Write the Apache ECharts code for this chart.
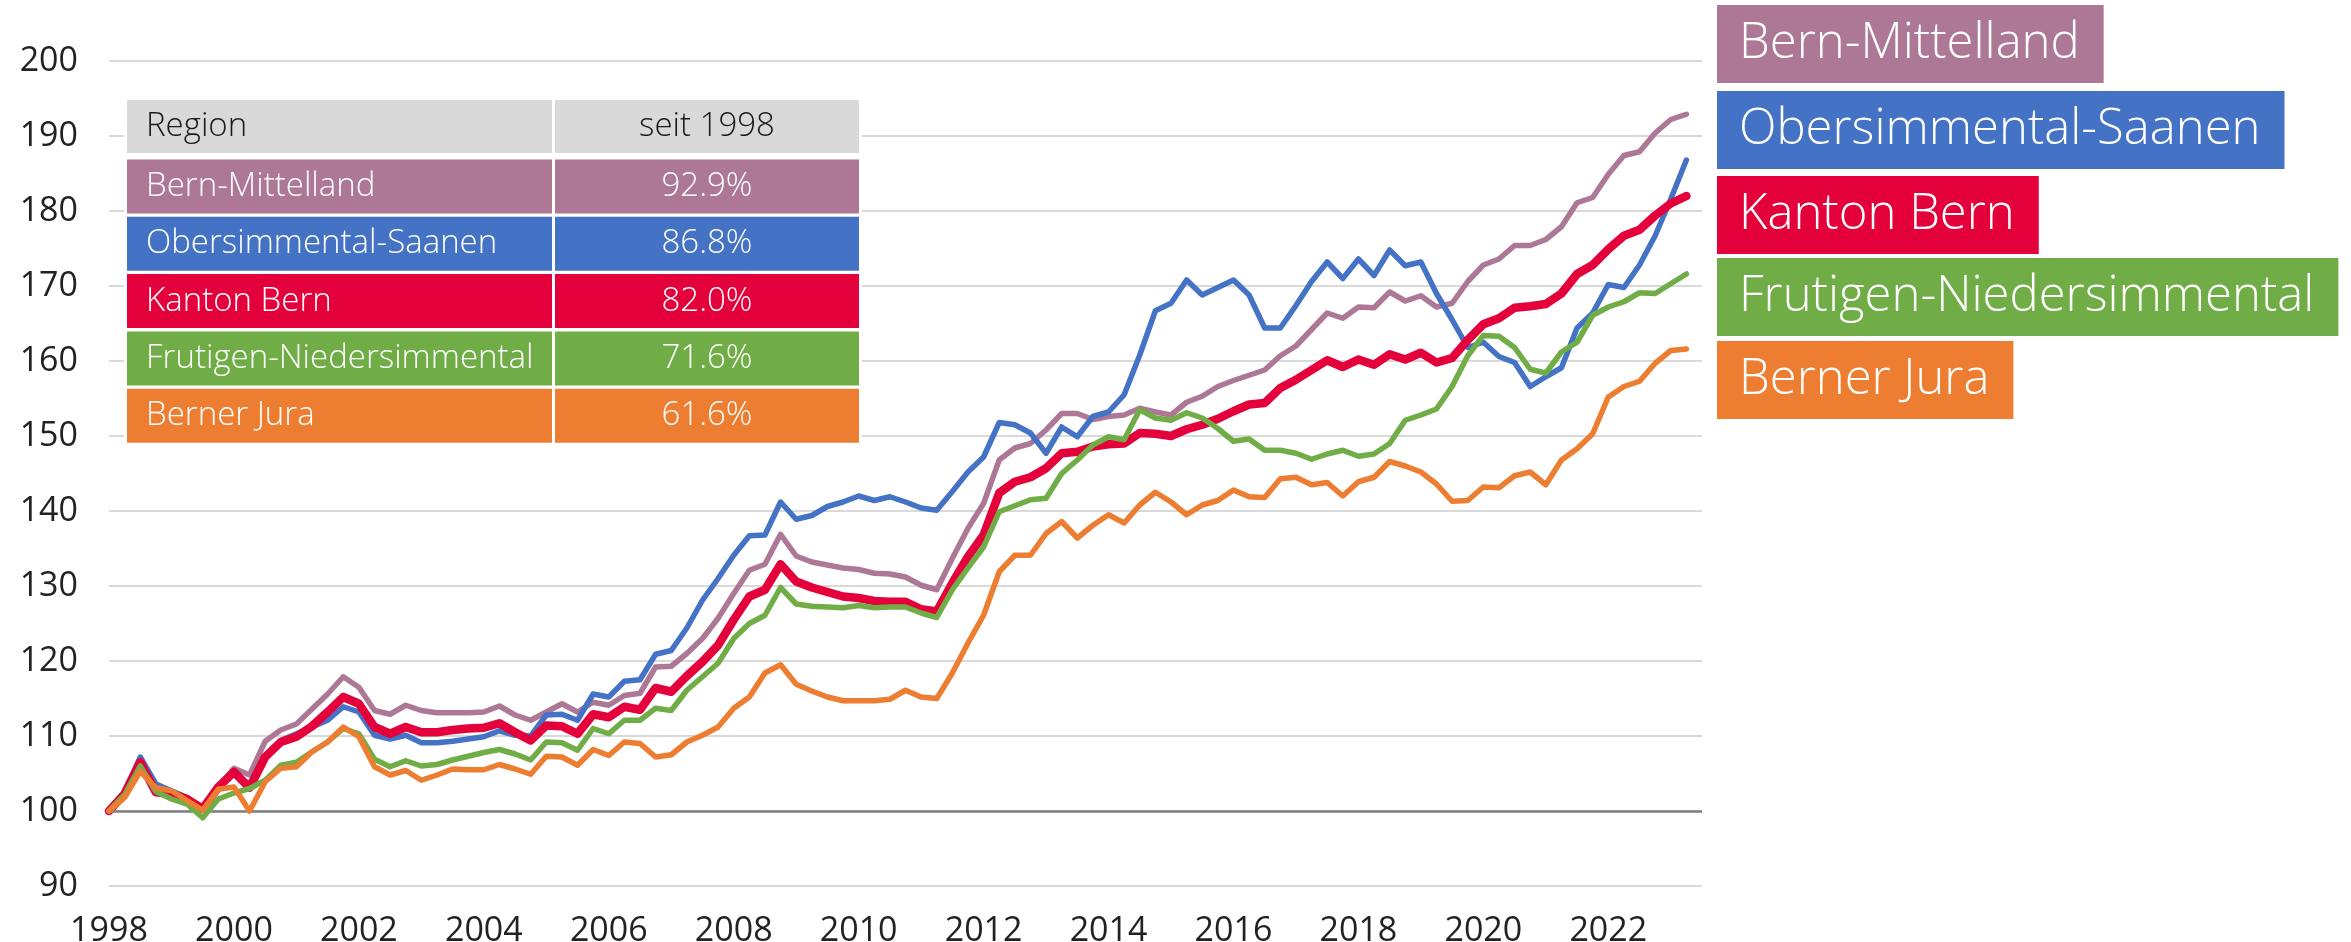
<!DOCTYPE html>
<html>
<head>
<meta charset="utf-8">
<script src="https://cdn.jsdelivr.net/npm/echarts@6/dist/echarts.min.js"></script>
<style>
html,body{margin:0;padding:0;background:#fff;}
#chart{width:2351px;height:942px;}
</style>
</head>
<body>
<div id="chart"></div>
<script>
// ---------- DATA ----------
const firstYear = 1998;
const quarterSlots = 103; // axis runs one quarter past the last observation
const regions = ['Bern-Mittelland', 'Obersimmental-Saanen', 'Kanton Bern', 'Frutigen-Niedersimmental', 'Berner Jura'];
const sinceLabels = ['92.9%', '86.8%', '82.0%', '71.6%', '61.6%'];
const tableHeader = ['Region', 'seit 1998'];
const yTicks = { min: 90, max: 200, step: 10 };

const bernMittelland = [
100,102.3,106.5,102.8,102.5,101.6,100.2,103.2,105.7,104.8,
109.3,110.8,111.6,113.6,115.6,117.9,116.5,113.4,112.9,114.1,
113.4,113.1,113.1,113.1,113.2,114.0,112.8,112.1,113.2,114.3,
113.2,114.5,114.1,115.4,115.7,119.2,119.3,121.0,123.0,125.7,
129.0,132.1,132.9,136.9,134.0,133.2,132.8,132.4,132.2,131.7,
131.6,131.2,130.1,129.5,133.7,137.7,141.0,146.8,148.4,149.0,
150.8,153.0,153.0,152.2,152.6,152.8,153.7,153.2,152.8,154.5,
155.3,156.6,157.4,158.1,158.8,160.7,162.0,164.2,166.4,165.7,
167.2,167.1,169.2,168.0,168.7,167.2,167.7,170.6,172.8,173.6,
175.4,175.4,176.2,177.9,181.1,181.8,184.9,187.4,187.9,190.4,
192.2,192.9];
const obersimmentalSaanen = [
100,102.5,107.2,103.6,102.7,101.8,100.3,103.0,105.0,103.5,
107.0,109.4,110.3,111.2,112.1,113.9,113.2,110.1,109.6,110.1,
109.1,109.1,109.3,109.6,109.9,110.7,110.1,110.0,112.8,112.9,
112.1,115.6,115.2,117.3,117.5,120.9,121.4,124.4,128.1,131.0,
134.1,136.7,136.8,141.2,138.9,139.4,140.6,141.2,142.0,141.4,
141.9,141.2,140.4,140.1,142.6,145.2,147.2,151.8,151.5,150.4,
147.7,151.2,149.9,152.6,153.2,155.5,160.8,166.7,167.7,170.8,
168.8,169.8,170.8,168.8,164.4,164.4,167.4,170.6,173.2,171.0,
173.6,171.4,174.8,172.7,173.2,169.0,165.5,161.8,162.5,160.6,
159.8,156.6,157.9,159.1,164.4,166.4,170.2,169.8,172.8,176.7,
181.6,186.8];
const kantonBern = [
100,102.3,106.5,102.5,102.3,101.6,100.3,103.2,105.2,103.1,
107.2,109.2,109.9,111.3,113.2,115.2,114.3,111.2,110.3,111.2,
110.5,110.5,110.8,111.0,111.1,111.7,110.5,109.4,111.4,111.3,
110.3,112.9,112.5,113.9,113.5,116.4,115.9,118.0,119.9,122.1,
125.5,128.6,129.5,132.9,130.6,129.8,129.2,128.6,128.4,128.0,
127.9,127.9,126.9,126.6,130.4,133.9,136.8,142.4,143.9,144.5,
145.7,147.7,147.9,148.6,148.9,149.0,150.4,150.3,150.0,150.9,
151.5,152.3,153.3,154.2,154.4,156.4,157.5,158.8,160.1,159.2,
160.2,159.5,160.9,160.2,161.1,159.8,160.4,162.8,164.9,165.7,
167.1,167.3,167.6,169.0,171.6,172.8,174.9,176.7,177.5,179.4,
181.0,182.0];
const frutigenNiedersimmental = [
100,102.2,106.0,102.6,101.6,100.9,99.1,101.6,102.4,103.0,
104.1,106.1,106.5,107.9,109.2,111.0,110.3,106.9,105.9,106.7,
106.0,106.2,106.8,107.3,107.8,108.2,107.6,106.8,109.2,109.1,
108.1,111.0,110.3,112.1,112.1,113.7,113.4,116.1,117.9,119.7,
123.0,125.0,126.1,129.8,127.6,127.3,127.2,127.1,127.4,127.1,
127.2,127.2,126.4,125.8,129.5,132.4,135.2,139.9,140.7,141.5,
141.7,145.0,146.8,148.8,149.9,149.5,153.5,152.4,152.1,153.1,
152.4,151.0,149.3,149.6,148.1,148.1,147.7,146.9,147.6,148.1,
147.3,147.6,149.0,152.1,152.8,153.6,156.6,160.7,163.4,163.3,
161.8,158.9,158.4,161.2,162.5,166.1,167.2,167.9,169.1,169.0,
170.3,171.6];
const bernerJura = [
100,101.8,105.3,103.1,102.7,101.4,100.1,102.9,103.2,100.0,
103.9,105.7,105.9,107.9,109.2,111.2,109.9,105.9,104.8,105.4,
104.1,104.8,105.6,105.5,105.5,106.2,105.6,104.9,107.3,107.2,
106.1,108.2,107.4,109.2,109.0,107.2,107.5,109.2,110.1,111.2,
113.7,115.2,118.4,119.5,116.9,116.0,115.2,114.7,114.7,114.7,
114.9,116.1,115.2,115.0,118.4,122.4,126.1,131.9,134.1,134.1,
137.0,138.6,136.4,138.1,139.5,138.4,140.8,142.5,141.2,139.5,
140.8,141.4,142.8,141.9,141.8,144.3,144.5,143.5,143.8,142.0,
143.9,144.5,146.6,146.0,145.2,143.6,141.3,141.4,143.2,143.1,
144.7,145.2,143.5,146.8,148.3,150.3,155.2,156.6,157.3,159.7,
161.4,161.6];

const seriesValues = [bernMittelland, obersimmentalSaanen, kantonBern, frutigenNiedersimmental, bernerJura];

// ---------- STYLE ----------
const colors = ['#ad7895', '#4472c4', '#e4003a', '#70ad47', '#ed7d31'];
const widths = [5.5, 5.5, 8.5, 5.5, 5.5];
const FONT = '"Open Sans", "Noto Sans", sans-serif';
const legendTops = [5, 91, 176, 258, 341];

const quarters = [];
for (let k = 0; k < quarterSlots; k++) {
  quarters.push((firstYear + Math.floor(k / 4)) + ' Q' + (k % 4 + 1));
}

// ---------- TABLE + LEGEND GRAPHICS ----------
const graphic = [];
const tX1 = 127, tW1 = 425, tX2 = 555, tW2 = 304;
const headTop = 100, headH = 53, rowTop0 = 159.5, rowStep = 57.3, rowH = 54;
const tableFont = '300 33px ' + FONT;
graphic.push({ type: 'rect', shape: { x: tX1 - 3, y: headTop - 3, width: tX2 + tW2 - tX1 + 6, height: rowTop0 + rowStep * 4 + rowH - headTop + 6 }, style: { fill: '#ffffff' }, z: 10 });
graphic.push({ type: 'rect', shape: { x: tX1, y: headTop, width: tW1, height: headH }, style: { fill: '#d9d9d9' }, z: 11 });
graphic.push({ type: 'rect', shape: { x: tX2, y: headTop, width: tW2, height: headH }, style: { fill: '#d9d9d9' }, z: 11 });
graphic.push({ type: 'text', x: 146, y: headTop + headH / 2, style: { text: tableHeader[0], fill: '#1a1a1a', font: tableFont, textVerticalAlign: 'middle', textAlign: 'left' }, z: 12 });
graphic.push({ type: 'text', x: tX2 + tW2 / 2, y: headTop + headH / 2, style: { text: tableHeader[1], fill: '#1a1a1a', font: tableFont, textVerticalAlign: 'middle', textAlign: 'center' }, z: 12 });
regions.forEach((r, k) => {
  const y = rowTop0 + rowStep * k;
  graphic.push({ type: 'rect', shape: { x: tX1, y: y, width: tW1, height: rowH }, style: { fill: colors[k] }, z: 11 });
  graphic.push({ type: 'rect', shape: { x: tX2, y: y, width: tW2, height: rowH }, style: { fill: colors[k] }, z: 11 });
  graphic.push({ type: 'text', x: 146, y: y + rowH / 2, style: { text: r, fill: '#ffffff', font: tableFont, textVerticalAlign: 'middle', textAlign: 'left' }, z: 12 });
  graphic.push({ type: 'text', x: tX2 + tW2 / 2, y: y + rowH / 2, style: { text: sinceLabels[k], fill: '#ffffff', font: tableFont, textVerticalAlign: 'middle', textAlign: 'center' }, z: 12 });
  // right-hand legend boxes
  graphic.push({ type: 'text', x: 1717, y: legendTops[k], style: {
    text: r, fill: '#ffffff', font: '300 49px ' + FONT, backgroundColor: colors[k],
    padding: [0, 24, 0, 22], lineHeight: 78, textVerticalAlign: 'top', textAlign: 'left' }, z: 12 });
});

// ---------- CHART ----------
const chart = echarts.init(document.getElementById('chart'), null, { renderer: 'canvas' });
const series = regions.map((name, k) => ({
  name: name,
  type: 'line',
  data: seriesValues[k],
  showSymbol: false,
  symbol: 'none',
  smooth: false,
  z: 2 + k,
  lineStyle: { color: colors[k], width: widths[k], join: 'round', cap: 'round' },
  itemStyle: { color: colors[k] }
}));
series[0].markLine = {
  silent: true, symbol: 'none', label: { show: false },
  lineStyle: { color: '#7f7f7f', width: 2.5, type: 'solid' },
  data: [{ yAxis: 100 }]
};

chart.setOption({
  animation: false,
  backgroundColor: '#ffffff',
  grid: { left: 109, right: 649, top: 61, bottom: 56, containLabel: false, outerBoundsMode: 'none' },
  xAxis: {
    type: 'category', data: quarters, boundaryGap: false,
    axisLine: { show: false }, axisTick: { show: false }, splitLine: { show: false },
    axisLabel: { interval: (idx) => idx % 8 === 0, margin: 28, fontSize: 34, color: '#222', fontFamily: FONT,
      formatter: v => v.slice(0, 4) }
  },
  yAxis: {
    type: 'value', min: yTicks.min, max: yTicks.max, interval: yTicks.step,
    axisLine: { show: false }, axisTick: { show: false },
    splitLine: { lineStyle: { color: '#d9d9d9', width: 2 } },
    axisLabel: { margin: 31, fontSize: 34, color: '#222', fontFamily: FONT }
  },
  series: series,
  graphic: graphic
});
</script>
</body>
</html>
